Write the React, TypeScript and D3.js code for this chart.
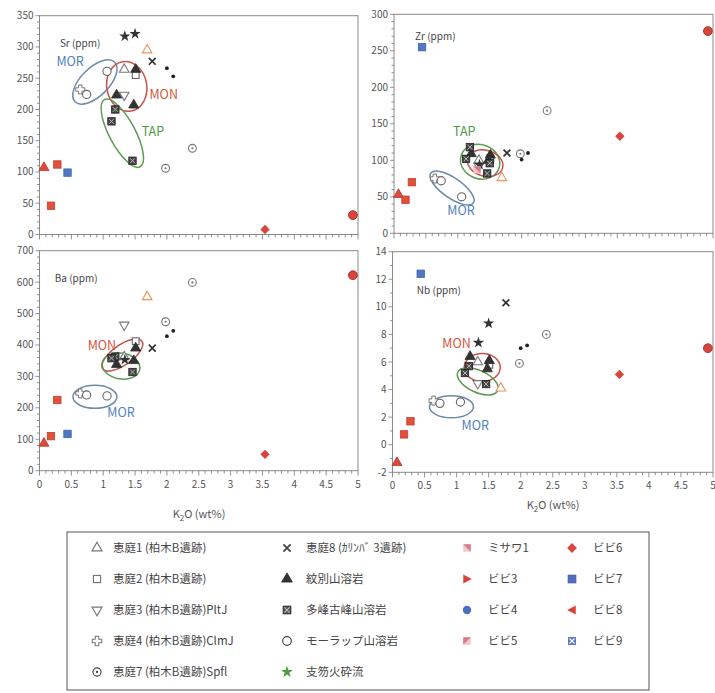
import * as d3 from 'd3';

// rows: [K2O, Sr, Zr, Ba, Nb]
const elements = ['Sr', 'Zr', 'Ba', 'Nb'];
const xTickLabels = ['0', '0.5', '1', '1.5', '2', '2.5', '3', '3.5', '4', '4.5', '5'];
const srTicks = [0, 50, 100, 150, 200, 250, 300, 350];
const zrTicks = [0, 50, 100, 150, 200, 250, 300];
const baTicks = [0, 100, 200, 300, 400, 500, 600, 700];
const nbTicks = [-2, 0, 2, 4, 6, 8, 10, 12, 14];

const eniwa1 = [[1.33, 264, 100, 362, 6.0]];
const eniwa1b = [[1.69, 295, 76, 553, 4.1]];
const eniwa2 = [[1.51, 255, 103, 412, 5.8]];
const eniwa3 = [[1.33, 223, 92, 464, 4.45]];
const eniwa4 = [[0.64, 232, 75, 246, 3.2]];
const eniwa7 = [[2.4, 138, 168, 599, 8.0], [1.98, 106, 109, 474, 5.9]];
const eniwa8 = [[1.77, 277, 110, 390, 10.3]];
const monbetsu = [[1.51, 264, 107, 390, 6.1], [1.21, 223, 109, 338, 6.4], [1.48, 207, 100, 350, 5.5]];
const tarumae = [[1.19, 200, 118, 363, 5.7], [1.13, 181, 102, 358, 5.2], [1.46, 118, 82, 314, 4.4], [1.5, null, 96, null, null]];
const morappu = [[0.74, 224, 72, 241, 3.0], [1.06, 261, 50, 238, 3.1]];
const shikotsu = [[1.34, 317, 94, 353, 7.4], [1.5, 321, null, null, 8.8]];
const smallDots = [[2.0, 266, 101, 428, 7.0], [2.1, 253, 110, 445, 7.2]];
const misawa1 = [[1.3, null, 87, null, null]];
const redTriangle = [[0.07, 107, 53, 87, -1.3]];
const redSquares = [[0.28, 112, 70, 225, 1.7], [0.18, 46, 46, 110, 0.75]];
const bibi7 = [[0.44, 99, 255, 117, 12.4]];
const bibi6 = [[3.54, 8, 133, 52, 5.1]];
const redCircle = [[4.92, 31, 277, 622, 7.0]];

// group outlines: [element, K2O, value, label]
const groupCentres = [
  ['Sr', 0.87, 244, 'MOR'], ['Sr', 1.37, 237, 'MON'], ['Sr', 1.3, 162, 'TAP'],
  ['Zr', 1.35, 98, 'TAP'], ['Zr', 1.43, 96, 'MON'], ['Zr', 0.91, 62, 'MOR'],
  ['Ba', 1.3, 368, 'MON'], ['Ba', 1.28, 333, 'TAP'], ['Ba', 0.87, 235, 'MOR'],
  ['Nb', 1.4, 5.6, 'MON'], ['Nb', 1.33, 4.6, 'TAP'], ['Nb', 0.92, 2.75, 'MOR'],
];
const groupLabels = [
  ['Sr', 0.48, 276, 'MOR'], ['Sr', 1.95, 223, 'MON'], ['Sr', 1.78, 164, 'TAP'],
  ['Zr', 1.1, 139, 'TAP'], ['Zr', 1.05, 31, 'MOR'],
  ['Ba', 0.98, 397, 'MON'], ['Ba', 1.28, 184, 'MOR'],
  ['Nb', 1.0, 7.3, 'MON'], ['Nb', 1.29, 1.36, 'MOR'],
];
const panelTitles = [['Sr', 0.32, 306], ['Zr', 0.33, 269], ['Ba', 0.24, 613], ['Nb', 0.38, 11.2]];

const legendCol1 = ['恵庭1 (柏木B遺跡)', '恵庭2 (柏木B遺跡)', '恵庭3 (柏木B遺跡)PltJ', '恵庭4 (柏木B遺跡)ClmJ', '恵庭7 (柏木B遺跡)Spfl'];
const legendCol2 = ['恵庭8 (ｶﾘﾝﾊﾞ 3遺跡)', '紋別山溶岩', '多峰古峰山溶岩', 'モーラップ山溶岩', '支笏火砕流'];
const legendCol3 = ['ミサワ1', 'ビビ3', 'ビビ4', 'ビビ5'];
const legendCol4 = ['ビビ6', 'ビビ7', 'ビビ8', 'ビビ9'];

// ---- layout / style ----
const layout = {
  Sr: { x0: 39.5, x1: 358, yTop: 15.7, yBot: 234.5, ticks: srTicks, minor: 10, showX: false },
  Zr: { x0: 394, x1: 713, yTop: 14.3, yBot: 233.3, ticks: zrTicks, minor: 10, showX: false },
  Ba: { x0: 39.5, x1: 358, yTop: 250.7, yBot: 470.7, ticks: baTicks, minor: 20, showX: true },
  Nb: { x0: 392.5, x1: 713, yTop: 251.7, yBot: 472.3, ticks: nbTicks, minor: 1, showX: true },
};
const groupShape = {
  Sr: { MOR: [28, 14, -45], MON: [20, 25, -10], TAP: [38, 13, 62] },
  Zr: { TAP: [20, 17, 20], MON: [18, 13, 15], MOR: [26, 10, 35] },
  Ba: { MON: [24, 10, -35], TAP: [19, 13, 10], MOR: [22, 11.5, 0] },
  Nb: { MON: [18, 14, 0], TAP: [22, 11, 25], MOR: [22, 11, 0] },
};
const groupColor = { MOR: '#4f7fbf', MON: '#d4553c', TAP: '#4d9a47' };
const ringColor = { MOR: '#6d8aa8', MON: '#c9524a', TAP: '#5d9a52' };

const FONT = "'Noto Sans CJK JP', 'Noto Sans', sans-serif";
const INK = '#555';

const series = [
  { rows: eniwa1, kind: 'triUp', color: '#777' },
  { rows: eniwa1b, kind: 'triUp', color: '#e8955e' },
  { rows: eniwa2, kind: 'square', color: '#666' },
  { rows: eniwa3, kind: 'triDown', color: '#777' },
  { rows: eniwa4, kind: 'plus', color: '#777' },
  { rows: eniwa7, kind: 'dotCircle', color: '#777' },
  { rows: eniwa8, kind: 'times', color: '#333' },
  { rows: monbetsu, kind: 'triFill', color: '#333' },
  { rows: tarumae, kind: 'boxX', color: '#444' },
  { rows: morappu, kind: 'circle', color: '#666' },
  { rows: shikotsu, kind: 'star', color: '#333' },
  { rows: smallDots, kind: 'dot', color: '#222' },
  { rows: misawa1, kind: 'halfTR', color: '#d77b86' },
  { rows: redTriangle, kind: 'triFill', color: '#dc4a3c' },
  { rows: redSquares, kind: 'squareFill', color: '#e2503c' },
  { rows: bibi7, kind: 'squareFill', color: '#4f77c4' },
  { rows: bibi6, kind: 'diamond', color: '#d9453d' },
  { rows: redCircle, kind: 'circleFill', color: '#d9453d' },
];

function Marker({ kind, color, x, y, s = 1 }: { kind: string; color: string; x: number; y: number; s?: number }) {
  const t = `translate(${x},${y}) scale(${s})`;
  switch (kind) {
    case 'triUp':
      return <path transform={t} d={d3.symbol(d3.symbolTriangle, 40)()!} fill="#fff" stroke={color} strokeWidth={1.1} />;
    case 'triDown':
      return <path transform={`${t} rotate(180)`} d={d3.symbol(d3.symbolTriangle, 40)()!} fill="#fff" stroke={color} strokeWidth={1.1} />;
    case 'triFill':
      return <path transform={t} d={d3.symbol(d3.symbolTriangle, 44)()!} fill={color} stroke={d3.color(color)!.darker(0.6).toString()} strokeWidth={0.8} />;
    case 'square':
      return <rect transform={t} x={-3.4} y={-3.4} width={6.8} height={6.8} fill="#fff" stroke={color} strokeWidth={1.1} />;
    case 'squareFill':
      return <rect transform={t} x={-3.7} y={-3.7} width={7.4} height={7.4} fill={color} stroke={d3.color(color)!.darker(0.5).toString()} strokeWidth={0.8} />;
    case 'plus': {
      const w = 1.7, L = 4.5;
      const d = `M${-w},${-L}H${w}V${-w}H${L}V${w}H${w}V${L}H${-w}V${w}H${-L}V${-w}H${-w}Z`;
      return <path transform={t} d={d} fill="#fff" stroke={color} strokeWidth={1} />;
    }
    case 'dotCircle':
      return (
        <g transform={t}>
          <circle r={3.9} fill="#fff" stroke={color} strokeWidth={1.1} />
          <circle r={1.1} fill={color} />
        </g>
      );
    case 'times':
      return <path transform={t} d={d3.symbol(d3.symbolTimes, 32)()!} fill="none" stroke={color} strokeWidth={1.7} />;
    case 'boxX':
      return (
        <g transform={t}>
          <rect x={-3.7} y={-3.7} width={7.4} height={7.4} fill={color} stroke="#222" strokeWidth={0.8} />
          <path d="M-2.4,-2.4L2.4,2.4M2.4,-2.4L-2.4,2.4" stroke="#bbb" strokeWidth={1} />
        </g>
      );
    case 'circle':
      return <circle transform={t} r={4.1} fill="#fff" stroke={color} strokeWidth={1.1} />;
    case 'circleFill':
      return <circle transform={t} r={4.4} fill={color} stroke={d3.color(color)!.darker(0.7).toString()} strokeWidth={1} />;
    case 'star':
      return <path transform={t} d={d3.symbol(d3.symbolStar, 40)()!} fill={color} />;
    case 'dot':
      return <circle transform={t} r={1.9} fill={color} />;
    case 'diamond':
      return <rect transform={`${t} rotate(45)`} x={-3.3} y={-3.3} width={6.6} height={6.6} fill={color} />;
    case 'halfTR':
      return (
        <g transform={t}>
          <rect x={-3.6} y={-3.6} width={7.2} height={7.2} fill="#f2c6cc" />
          <path d="M-3.6,-3.6H3.6V3.6Z" fill={color} />
        </g>
      );
    case 'halfTL':
      return (
        <g transform={t}>
          <rect x={-3.6} y={-3.6} width={7.2} height={7.2} fill="#f2c6cc" />
          <path d="M-3.6,-3.6H3.6L-3.6,3.6Z" fill={color} />
        </g>
      );
    case 'triRight':
      return <path transform={t} d="M-3.6,-4.2L4.6,0L-3.6,4.2Z" fill={color} />;
    case 'triLeft':
      return <path transform={t} d="M3.6,-4.2L-4.6,0L3.6,4.2Z" fill={color} />;
    case 'circleBlue':
      return <circle transform={t} r={4} fill={color} />;
    case 'boxXBlue':
      return (
        <g transform={t}>
          <rect x={-3.8} y={-3.8} width={7.6} height={7.6} fill={color} />
          <path d="M-2.4,-2.4L2.4,2.4M2.4,-2.4L-2.4,2.4" stroke="#fff" strokeWidth={1.1} />
        </g>
      );
    default:
      return null;
  }
}

function Panel({ el }: { el: string }) {
  const L = layout[el as keyof typeof layout];
  const idx = elements.indexOf(el) + 1;
  const ticks = L.ticks;
  const x = d3.scaleLinear().domain([0, 5]).range([L.x0, L.x1]);
  const y = d3.scaleLinear().domain([ticks[0], ticks[ticks.length - 1]]).range([L.yBot, L.yTop]);
  const minorX = d3.range(0, 50.5, 1).map((i) => i / 10);
  const minorY = d3.range(ticks[0], ticks[ticks.length - 1] + 1e-9, L.minor);
  const shapes = (groupShape as any)[el];
  return (
    <g>
      <rect x={L.x0} y={L.yTop} width={L.x1 - L.x0} height={L.yBot - L.yTop} fill="none" stroke="#8a8a8a" strokeWidth={1} />
      {minorX.map((v, i) => (
        <line key={'mx' + i} x1={x(v)} x2={x(v)} y1={L.yBot} y2={L.yBot + (i % 5 === 0 ? 5 : 3)} stroke="#777" strokeWidth={0.8} />
      ))}
      {minorY.map((v, i) => (
        <line key={'my' + i} x1={L.x0} x2={L.x0 - (ticks.includes(v) ? 4 : 2.5)} y1={y(v)} y2={y(v)} stroke="#777" strokeWidth={0.8} />
      ))}
      {ticks.map((v) => (
        <text key={'yt' + v} x={L.x0 - 6} y={y(v)} dy="0.35em" textAnchor="end" fontSize={10} fill={INK} fontFamily={FONT}>
          {v}
        </text>
      ))}
      {L.showX &&
        xTickLabels.map((s) => (
          <text key={'xt' + s} x={x(+s)} y={L.yBot + 17} textAnchor="middle" fontSize={10} fill={INK} fontFamily={FONT}>
            {s}
          </text>
        ))}
      {groupCentres
        .filter((g) => g[0] === el)
        .map((g, i) => {
          const [rx, ry, a] = shapes[g[3] as string];
          return (
            <ellipse
              key={'e' + i}
              transform={`translate(${x(g[1] as number)},${y(g[2] as number)}) rotate(${a})`}
              rx={rx}
              ry={ry}
              fill="none"
              stroke={(ringColor as any)[g[3] as string]}
              strokeWidth={1.5}
            />
          );
        })}
      {series.map((s, si) =>
        s.rows
          .filter((r) => r[idx] != null)
          .map((r, ri) => <Marker key={si + '-' + ri} kind={s.kind} color={s.color} x={x(r[0] as number)} y={y(r[idx] as number)} />)
      )}
      {groupLabels
        .filter((g) => g[0] === el)
        .map((g, i) => (
          <text key={'gl' + i} x={x(g[1] as number)} y={y(g[2] as number)} dy="0.35em" textAnchor="middle" fontSize={12.5} fill={(groupColor as any)[g[3] as string]} fontFamily={FONT}>
            {g[3]}
          </text>
        ))}
      {panelTitles
        .filter((p) => p[0] === el)
        .map((p, i) => (
          <text key={'pt' + i} x={x(p[1] as number)} y={y(p[2] as number)} dy="0.35em" fontSize={10} fill="#444" fontFamily={FONT}>
            {el} (ppm)
          </text>
        ))}
    </g>
  );
}

const legendGlyphs1 = [
  { kind: 'triUp', color: '#777' },
  { kind: 'square', color: '#777' },
  { kind: 'triDown', color: '#777' },
  { kind: 'plus', color: '#777' },
  { kind: 'dotCircle', color: '#444' },
];
const legendGlyphs2 = [
  { kind: 'times', color: '#444' },
  { kind: 'triFill', color: '#333' },
  { kind: 'boxX', color: '#555' },
  { kind: 'circle', color: '#444' },
  { kind: 'star', color: '#4e9e3c' },
];
const legendGlyphs3 = [
  { kind: 'halfTR', color: '#d77b86' },
  { kind: 'triRight', color: '#d9453d' },
  { kind: 'circleBlue', color: '#4a6fbf' },
  { kind: 'halfTL', color: '#d77b86' },
];
const legendGlyphs4 = [
  { kind: 'diamond', color: '#d9453d' },
  { kind: 'squareFill', color: '#4f6fbf' },
  { kind: 'triLeft', color: '#d9453d' },
  { kind: 'boxXBlue', color: '#5a78c4' },
];

function Legend() {
  const rowY = (i: number) => 548 + i * 31;
  const cols = [
    { labels: legendCol1, glyphs: legendGlyphs1, gx: 97, tx: 113 },
    { labels: legendCol2, glyphs: legendGlyphs2, gx: 287, tx: 306 },
    { labels: legendCol3, glyphs: legendGlyphs3, gx: 467, tx: 488 },
    { labels: legendCol4, glyphs: legendGlyphs4, gx: 572, tx: 593 },
  ];
  return (
    <g>
      <rect x={67} y={532} width={582} height={158} fill="#fff" stroke="#555" strokeWidth={1} />
      {cols.map((c, ci) =>
        c.labels.map((lab, i) => (
          <g key={ci + '-' + i}>
            <Marker kind={c.glyphs[i].kind} color={c.glyphs[i].color} x={c.gx} y={rowY(i)} s={1.05} />
            <text x={c.tx} y={rowY(i)} dy="0.35em" fontSize={11.5} fill="#444" fontFamily={FONT}>
              {lab}
            </text>
          </g>
        ))
      )}
    </g>
  );
}

export default function App() {
  return (
    <svg width={715} height={693} style={{ position: 'absolute', left: 0, top: 0, background: '#fff' }}>
      {elements.map((el) => (
        <Panel key={el} el={el} />
      ))}
      <text x={199} y={514} dy="0.35em" textAnchor="middle" fontSize={11} fill={INK} fontFamily={FONT}>
        K<tspan fontSize={8} dy={3}>2</tspan>
        <tspan dy={-3}>O (wt%)</tspan>
      </text>
      <text x={553} y={505} dy="0.35em" textAnchor="middle" fontSize={11} fill={INK} fontFamily={FONT}>
        K<tspan fontSize={8} dy={3}>2</tspan>
        <tspan dy={-3}>O (wt%)</tspan>
      </text>
      <Legend />
    </svg>
  );
}
